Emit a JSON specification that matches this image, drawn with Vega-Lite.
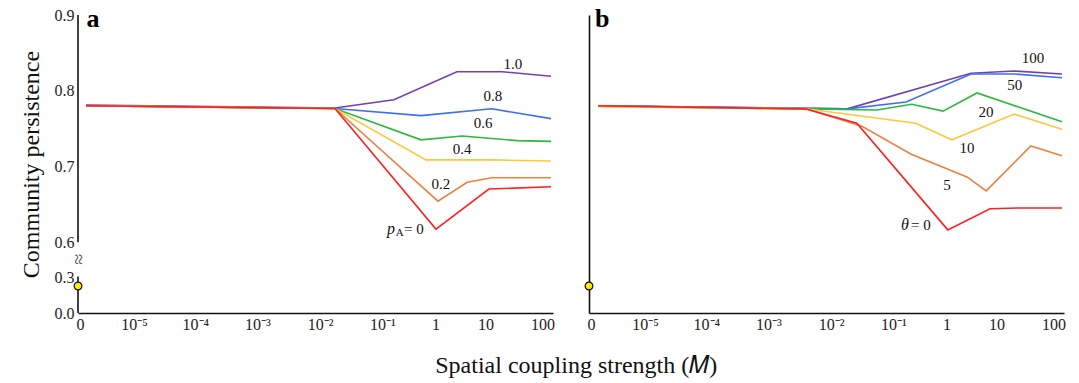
{
  "$schema": "https://vega.github.io/schema/vega-lite/v6.json",
  "padding": {"left": 19, "top": 6, "right": 10, "bottom": 5},
  "background": "white",
  "config": {
    "view": {"stroke": null},
    "font": "Liberation Serif",
    "axis": {"labelFont": "Liberation Serif", "titleFont": "Liberation Serif", "labelColor": "#222", "titleColor": "#111", "domainColor": "#111", "domainWidth": 1.6, "ticks": false, "grid": false}
  },
  "title": {"text": "Spatial coupling strength (𝑀)", "orient": "bottom", "anchor": "middle", "font": "Liberation Serif", "fontSize": 24, "fontWeight": "normal", "color": "#111", "offset": 22, "dx": 34},
  "datasets": {
    "linesA": [
      {"s": "1.0", "x": -5.96, "y": 0.781}, {"s": "1.0", "x": -1.61, "y": 0.777}, {"s": "1.0", "x": -0.58, "y": 0.788}, {"s": "1.0", "x": 0.52, "y": 0.825}, {"s": "1.0", "x": 1.31, "y": 0.825}, {"s": "1.0", "x": 2.165, "y": 0.819},
      {"s": "0.8", "x": -5.96, "y": 0.780}, {"s": "0.8", "x": -1.61, "y": 0.7765}, {"s": "0.8", "x": -0.107, "y": 0.767}, {"s": "0.8", "x": 1.13, "y": 0.776}, {"s": "0.8", "x": 2.165, "y": 0.763},
      {"s": "0.6", "x": -5.96, "y": 0.780}, {"s": "0.6", "x": -1.61, "y": 0.7765}, {"s": "0.6", "x": -0.107, "y": 0.735}, {"s": "0.6", "x": 0.61, "y": 0.740}, {"s": "0.6", "x": 1.57, "y": 0.734}, {"s": "0.6", "x": 2.165, "y": 0.733},
      {"s": "0.4", "x": -5.96, "y": 0.780}, {"s": "0.4", "x": -1.61, "y": 0.7765}, {"s": "0.4", "x": -0.02, "y": 0.7085}, {"s": "0.4", "x": 1.1, "y": 0.7085}, {"s": "0.4", "x": 2.165, "y": 0.707},
      {"s": "0.2", "x": -5.96, "y": 0.780}, {"s": "0.2", "x": -1.61, "y": 0.7765}, {"s": "0.2", "x": 0.19, "y": 0.654}, {"s": "0.2", "x": 0.70, "y": 0.679}, {"s": "0.2", "x": 1.13, "y": 0.685}, {"s": "0.2", "x": 2.165, "y": 0.685},
      {"s": "0", "x": -5.96, "y": 0.780}, {"s": "0", "x": -1.61, "y": 0.7765}, {"s": "0", "x": 0.155, "y": 0.617}, {"s": "0", "x": 1.08, "y": 0.670}, {"s": "0", "x": 2.165, "y": 0.673}
    ],
    "linesB": [
      {"s": "100", "x": -5.94, "y": 0.780}, {"s": "100", "x": -1.59, "y": 0.776}, {"s": "100", "x": 0.575, "y": 0.823}, {"s": "100", "x": 1.33, "y": 0.826}, {"s": "100", "x": 2.165, "y": 0.822},
      {"s": "50", "x": -5.94, "y": 0.780}, {"s": "50", "x": -1.59, "y": 0.776}, {"s": "50", "x": -0.56, "y": 0.785}, {"s": "50", "x": 0.575, "y": 0.822}, {"s": "50", "x": 1.33, "y": 0.822}, {"s": "50", "x": 2.165, "y": 0.817},
      {"s": "20", "x": -5.94, "y": 0.779}, {"s": "20", "x": -2.31, "y": 0.776}, {"s": "20", "x": -1.07, "y": 0.7745}, {"s": "20", "x": -0.46, "y": 0.782}, {"s": "20", "x": 0.086, "y": 0.773}, {"s": "20", "x": 0.68, "y": 0.797}, {"s": "20", "x": 2.165, "y": 0.759},
      {"s": "10", "x": -5.94, "y": 0.779}, {"s": "10", "x": -2.31, "y": 0.776}, {"s": "10", "x": -0.39, "y": 0.757}, {"s": "10", "x": 0.24, "y": 0.735}, {"s": "10", "x": 1.33, "y": 0.769}, {"s": "10", "x": 2.165, "y": 0.749},
      {"s": "5", "x": -5.94, "y": 0.780}, {"s": "5", "x": -2.31, "y": 0.776}, {"s": "5", "x": -1.33, "y": 0.753}, {"s": "5", "x": -0.47, "y": 0.716}, {"s": "5", "x": 0.505, "y": 0.686}, {"s": "5", "x": 0.84, "y": 0.6675}, {"s": "5", "x": 1.62, "y": 0.727}, {"s": "5", "x": 2.165, "y": 0.714},
      {"s": "0", "x": -5.94, "y": 0.780}, {"s": "0", "x": -2.31, "y": 0.7758}, {"s": "0", "x": -1.42, "y": 0.757}, {"s": "0", "x": 0.17, "y": 0.616}, {"s": "0", "x": 0.907, "y": 0.644}, {"s": "0", "x": 1.41, "y": 0.645}, {"s": "0", "x": 2.165, "y": 0.645}
    ],
    "labelsA": [
      {"t": "1.0", "x": 1.50, "y": 0.835}, {"t": "0.8", "x": 1.15, "y": 0.793}, {"t": "0.6", "x": 0.98, "y": 0.757}, {"t": "0.4", "x": 0.61, "y": 0.723}, {"t": "0.2", "x": 0.24, "y": 0.677}, {"t": "= 0", "x": -0.23, "y": 0.617}
    ],
    "labelsB": [
      {"t": "100", "x": 1.66, "y": 0.843}, {"t": "50", "x": 1.34, "y": 0.8075}, {"t": "20", "x": 0.837, "y": 0.772}, {"t": "10", "x": 0.505, "y": 0.7243}, {"t": "5", "x": 0.155, "y": 0.6754}, {"t": "= 0", "x": -0.30, "y": 0.6226}
    ],
    "start": [{"x": -6.1, "y": 0.225}]
  },
  "resolve": {"scale": {"color": "independent"}},
  "spacing": 27,
  "hconcat": [
    {
      "width": 475,
      "height": 298,
      "encoding": {
        "x": {"field": "x", "type": "quantitative", "scale": {"domain": [-6.1, 2.2], "nice": false, "zero": false},
          "axis": {"title": null, "values": [-6.065, -5.12, -4.05, -2.965, -1.87, -0.78, 0.145, 1.02, 2.015], "labelExpr": "datum.value < -5.5 ? '0' : datum.value < -4.5 ? '10⁻⁵' : datum.value < -3.5 ? '10⁻⁴' : datum.value < -2.5 ? '10⁻³' : datum.value < -1.3 ? '10⁻²' : datum.value < -0.3 ? '10⁻¹' : datum.value < 0.6 ? '1' : datum.value < 1.5 ? '10' : '100'", "labelFontSize": 16, "labelPadding": 3, "labelFlush": false, "labelOverlap": false}},
        "y": {"field": "y", "type": "quantitative", "scale": {"domain": [0, 0.3, 0.6, 0.9], "range": [298, 262, 227, 0], "nice": false, "zero": false},
          "axis": {"title": "Community persistence", "titleFontSize": 24, "titleFontWeight": "normal", "titlePadding": 11, "values": [0, 0.3, 0.6, 0.7, 0.8, 0.9], "format": ".1f", "labelFontSize": 16, "labelPadding": 4, "domain": false, "labelOverlap": false, "labelFlush": false}}
      },
      "layer": [
        {"data": {"values": [{"x": -6.1, "y": 0.597, "y2": 0.9}, {"x": -6.1, "y": 0.0, "y2": 0.305}]}, "mark": {"type": "rule", "color": "#111", "strokeWidth": 1.6},
          "encoding": {"y2": {"field": "y2"}}},
        {"data": {"values": [{"t": "≈", "x": -6.1, "y": 0.45}]}, "mark": {"type": "text", "angle": 90, "fontSize": 20, "color": "#555"},
          "encoding": {"text": {"field": "t"}}},
        {"data": {"name": "linesA"}, "mark": {"type": "line", "strokeWidth": 1.6},
          "encoding": {"color": {"field": "s", "type": "nominal", "legend": null, "scale": {"domain": ["0", "0.2", "0.4", "0.6", "0.8", "1.0"], "range": ["#ff2020", "#f08040", "#ffc83c", "#2eb83e", "#3f6ff5", "#7440b0"]}},
            "order": {"field": "x"}}},
        {"data": {"name": "start"}, "mark": {"type": "point", "filled": true, "fill": "#ffee00", "stroke": "#111", "strokeWidth": 1.2, "size": 60, "opacity": 1}},
        {"data": {"name": "labelsA"}, "mark": {"type": "text", "fontSize": 15, "color": "#111"}, "encoding": {"text": {"field": "t"}}},
        {"data": {"values": [{"t": "p", "x": -0.63, "y": 0.617}]}, "mark": {"type": "text", "fontSize": 16, "fontStyle": "italic", "color": "#111"}, "encoding": {"text": {"field": "t"}}},
        {"data": {"values": [{"t": "A", "x": -0.48, "y": 0.612}]}, "mark": {"type": "text", "fontSize": 11, "color": "#111"}, "encoding": {"text": {"field": "t"}}},
        {"data": {"values": [{"t": "a", "x": -5.84, "y": 0.884}]}, "mark": {"type": "text", "fontSize": 26, "fontWeight": "bold", "color": "#000", "baseline": "alphabetic"}, "encoding": {"text": {"field": "t"}}}
      ]
    },
    {
      "width": 475,
      "height": 298,
      "encoding": {
        "x": {"field": "x", "type": "quantitative", "scale": {"domain": [-6.1, 2.2], "nice": false, "zero": false},
          "axis": {"title": null, "values": [-6.065, -5.12, -4.05, -2.965, -1.87, -0.78, 0.145, 1.02, 2.015], "labelExpr": "datum.value < -5.5 ? '0' : datum.value < -4.5 ? '10⁻⁵' : datum.value < -3.5 ? '10⁻⁴' : datum.value < -2.5 ? '10⁻³' : datum.value < -1.3 ? '10⁻²' : datum.value < -0.3 ? '10⁻¹' : datum.value < 0.6 ? '1' : datum.value < 1.5 ? '10' : '100'", "labelFontSize": 16, "labelPadding": 3, "labelFlush": false, "labelOverlap": false}},
        "y": {"field": "y", "type": "quantitative", "scale": {"domain": [0, 0.3, 0.6, 0.9], "range": [298, 262, 227, 0], "nice": false, "zero": false},
          "axis": {"title": null, "labels": false, "domain": true}}
      },
      "layer": [
        {"data": {"name": "linesB"}, "mark": {"type": "line", "strokeWidth": 1.6},
          "encoding": {"color": {"field": "s", "type": "nominal", "legend": null, "scale": {"domain": ["0", "5", "10", "20", "50", "100"], "range": ["#ff2020", "#f08040", "#ffc83c", "#2eb83e", "#3f6ff5", "#7440b0"]}},
            "order": {"field": "x"}}},
        {"data": {"name": "start"}, "mark": {"type": "point", "filled": true, "fill": "#ffee00", "stroke": "#111", "strokeWidth": 1.2, "size": 60, "opacity": 1}},
        {"data": {"name": "labelsB"}, "mark": {"type": "text", "fontSize": 15, "color": "#111"}, "encoding": {"text": {"field": "t"}}},
        {"data": {"values": [{"t": "θ", "x": -0.58, "y": 0.6226}]}, "mark": {"type": "text", "fontSize": 16, "fontStyle": "italic", "color": "#111"}, "encoding": {"text": {"field": "t"}}},
        {"data": {"values": [{"t": "b", "x": -5.87, "y": 0.884}]}, "mark": {"type": "text", "fontSize": 26, "fontWeight": "bold", "color": "#000", "baseline": "alphabetic"}, "encoding": {"text": {"field": "t"}}}
      ]
    }
  ]
}
